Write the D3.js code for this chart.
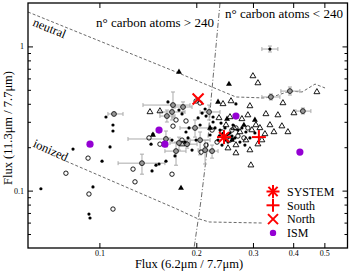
<!DOCTYPE html>
<html><head><meta charset="utf-8">
<script src="https://cdn.jsdelivr.net/npm/d3@7"></script>
<style>body{margin:0;background:#fff}svg{display:block}text{font-family:"Liberation Serif","Times New Roman",serif}</style>
</head><body><svg id="c" width="352" height="272"></svg>
<script>
// ---- data ----
const xTicks=[0.1,0.2,0.3,0.4,0.5];
const yTicks=[0.1,1];
const yMinor=[0.05,0.06,0.07,0.08,0.09,0.2,0.3,0.4,0.5,0.6,0.7,0.8,0.9];

const dotsX=[0.0658,0.0828,0.0955,0.0928,0.0935,0.1019,0.1048,0.1079,0.1102,0.1102,0.1447,0.1467,0.1457,0.1499,0.1532,0.1610,0.1633,0.1717,0.1767,0.1806,0.1858,0.1899,0.2130,0.2085,0.2145,0.2255,0.2255,0.2387,0.2656,0.1681,0.1885,0.2287,0.2370,0.2456,0.2545,0.2601,0.2694,0.2772,0.2852,0.2935,0.3042,0.2509,0.2337,0.2207,0.2733,0.2832,0.2637,0.2055,0.1997,0.1940,0.1845,0.2026,0.2474,0.2582,0.2404,0.2420,0.2500,0.2360,0.2600];
const dotsY=[0.103,0.194,0.106,0.0688,0.0646,0.160,0.324,0.201,0.285,0.259,0.210,0.247,0.137,0.150,0.153,0.160,0.412,0.174,0.362,0.340,0.255,0.272,0.368,0.345,0.329,0.324,0.299,0.294,0.399,0.224,0.232,0.272,0.263,0.272,0.251,0.285,0.263,0.272,0.255,0.232,0.251,0.217,0.224,0.243,0.217,0.207,0.232,0.285,0.224,0.191,0.217,0.319,0.224,0.239,0.207,0.250,0.245,0.240,0.228];

const openCircX=[0.0787,0.0922,0.0928,0.1102,0.1272,0.1290,0.1426,0.1542,0.1681,0.1693,0.1730,0.1858,0.1997,0.2055,0.2070,0.1806,0.2404,0.2509,0.2582,0.2239,0.2694,0.2812,0.2893,0.2320,0.2145,0.2545,0.2656];
const openCircY=[0.132,0.168,0.0947,0.0745,0.141,0.115,0.232,0.210,0.130,0.280,0.309,0.304,0.418,0.405,0.185,0.224,0.255,0.239,0.263,0.263,0.239,0.232,0.272,0.217,0.207,0.224,0.272];

const openTriX=[0.1542,0.1806,0.1436,0.2421,0.2564,0.2353,0.2545,0.2772,0.2893,0.2935,0.2999,0.3108,0.3291,0.3586,0.3717,0.4021,0.3387,0.3690,0.3852,0.3268,0.4740,0.2656,0.2956,0.2474,0.2619,0.2733,0.2977,0.3064,0.3153,0.2852,0.2656,0.2509,0.3108,0.3198,0.3485,0.2935];
const openTriY=[0.356,0.210,0.351,0.399,0.418,0.319,0.324,0.314,0.334,0.386,0.623,0.557,0.340,0.334,0.405,0.345,0.285,0.280,0.255,0.247,0.483,0.182,0.150,0.285,0.272,0.255,0.263,0.285,0.272,0.224,0.207,0.197,0.210,0.224,0.255,0.191];

const fillTriX=[0.1767,0.2527,0.1793,0.1467,0.2337,0.2492,0.2207,0.2812,0.2582,0.3042];
const fillTriY=[0.665,0.548,0.104,0.243,0.412,0.314,0.272,0.285,0.224,0.309];

// error-bar circles
const errX=[0.1693,0.1110,0.1621,0.1356,0.1610,0.1872,0.2130,0.2239,0.1767,0.3411,0.3908,0.4288,0.1681,0.1819,0.2055,0.1982,0.1730,0.2192];
const errY=[0.392,0.340,0.329,0.155,0.228,0.210,0.191,0.188,0.214,0.446,0.490,0.356,0.351,0.380,0.224,0.272,0.188,0.351];
const errXlo=[0.1366,0.1063,0.1542,0.1143,0.1227,0.1780,0.2026,0.2145,0.1657,0.3198,0.3664,0.4079,0.1542,0.1717,0.1912,0.1780,0.1598,0.2055];
const errXhi=[0.1912,0.1184,0.1717,0.1598,0.1657,0.2011,0.2255,0.2337,0.1912,0.3638,0.4197,0.4541,0.1845,0.1940,0.2207,0.2207,0.1858,0.2370];
const errYlo=[0.319,0.340,0.299,0.130,0.201,0.197,0.153,0.168,0.191,0.425,0.460,0.340,0.309,0.351,0.177,0.235,0.150,0.309];
const errYhi=[0.483,0.340,0.362,0.179,0.259,0.224,0.224,0.207,0.235,0.468,0.523,0.374,0.392,0.412,0.255,0.309,0.217,0.392];
// filled dot with error bars
const errDotX=[0.3387], errDotY=[0.959], errDotXlo=[0.3198], errDotXhi=[0.3586], errDotYlo=[0.915], errDotYhi=[1.006];

const systemPt=[0.2439,0.235];
const southPt=[0.3130,0.235];
const northPt=[0.2026,0.432];
const ismX=[0.0935,0.1532,0.1598,0.2656,0.4197];
const ismY=[0.210,0.263,0.210,0.329,0.185];

const neutralLineX=[0.060,0.1730,0.2656,0.3268,0.3513,0.3908,0.4263,0.4677,0.5025];
const neutralLineY=[1.732,0.665,0.446,0.439,0.453,0.490,0.483,0.548,0.515];
const ionizedLineX=[0.0788,0.1742,0.1997,0.2192,0.3221];
const ionizedLineY=[0.160,0.0745,0.0646,0.0606,0.0596];
const carbonLineX=[0.2370,0.2222,0.2161,0.2070,0.1968];
const carbonLineY=[2.0,0.425,0.191,0.0864,0.040];

const legendLabels=["SYSTEM","South","North","ISM"];

// ---- drawing ----
const svg=d3.select("#c");
const L=28,R=347.5,T=3,B=248;
const x=d3.scaleLog().domain([0.06,0.59]).range([L,R]);
const y=d3.scaleLog().domain([0.04,2]).range([B,T]);
const RED="#ff0000", PURPLE="#9400d3";

const line=d3.line().x(d=>x(d[0])).y(d=>y(d[1]));
const g=svg.append("g");
g.append("path").attr("d",line(d3.zip(neutralLineX,neutralLineY))).attr("fill","none").attr("stroke","#444").attr("stroke-width",0.8).attr("stroke-dasharray","3,2");
g.append("path").attr("d",line(d3.zip(ionizedLineX,ionizedLineY))).attr("fill","none").attr("stroke","#444").attr("stroke-width",0.8).attr("stroke-dasharray","3,2");
g.append("path").attr("d",line(d3.zip(carbonLineX,carbonLineY))).attr("fill","none").attr("stroke","#444").attr("stroke-width",0.8).attr("stroke-dasharray","5,2,1,2");

// error bars
function errBars(xs,ys,xlo,xhi,ylo,yhi){
  const eg=svg.append("g").attr("stroke","#aaa").attr("stroke-width",1);
  xs.forEach((v,i)=>{
    const cx=x(v),cy=y(ys[i]);
    if(xhi[i]>xlo[i]){
      eg.append("line").attr("x1",x(xlo[i])).attr("x2",x(xhi[i])).attr("y1",cy).attr("y2",cy);
      eg.append("line").attr("x1",x(xlo[i])).attr("x2",x(xlo[i])).attr("y1",cy-2).attr("y2",cy+2);
      eg.append("line").attr("x1",x(xhi[i])).attr("x2",x(xhi[i])).attr("y1",cy-2).attr("y2",cy+2);
    }
    if(yhi[i]>ylo[i]){
      eg.append("line").attr("x1",cx).attr("x2",cx).attr("y1",y(ylo[i])).attr("y2",y(yhi[i]));
      eg.append("line").attr("x1",cx-2).attr("x2",cx+2).attr("y1",y(ylo[i])).attr("y2",y(ylo[i]));
      eg.append("line").attr("x1",cx-2).attr("x2",cx+2).attr("y1",y(yhi[i])).attr("y2",y(yhi[i]));
    }
  });
}
errBars(errX,errY,errXlo,errXhi,errYlo,errYhi);
errBars(errDotX,errDotY,errDotXlo,errDotXhi,errDotYlo,errDotYhi);

const tri=d3.symbol().type(d3.symbolTriangle).size(15);
svg.append("g").selectAll("path").data(d3.zip(openTriX,openTriY)).join("path")
  .attr("d",tri).attr("transform",d=>`translate(${x(d[0])},${y(d[1])})`)
  .attr("fill","none").attr("stroke","#000").attr("stroke-width",0.9);
svg.append("g").selectAll("path").data(d3.zip(fillTriX,fillTriY)).join("path")
  .attr("d",tri).attr("transform",d=>`translate(${x(d[0])},${y(d[1])})`)
  .attr("fill","#000");
svg.append("g").selectAll("circle").data(d3.zip(openCircX,openCircY)).join("circle")
  .attr("cx",d=>x(d[0])).attr("cy",d=>y(d[1])).attr("r",2.2)
  .attr("fill","none").attr("stroke","#000").attr("stroke-width",0.9);
svg.append("g").selectAll("circle").data(d3.zip(errX,errY)).join("circle")
  .attr("cx",d=>x(d[0])).attr("cy",d=>y(d[1])).attr("r",2.4)
  .attr("fill","#999").attr("stroke","#222").attr("stroke-width",1);
svg.append("g").selectAll("circle").data(d3.zip(dotsX.concat(errDotX),dotsY.concat(errDotY))).join("circle")
  .attr("cx",d=>x(d[0])).attr("cy",d=>y(d[1])).attr("r",1.6).attr("fill","#000");

// red markers
function asterisk(gg,cx,cy,r,w){
  for(let a=0;a<4;a++){const t=a*Math.PI/4;
    gg.append("line").attr("x1",cx-r*Math.cos(t)).attr("y1",cy-r*Math.sin(t)).attr("x2",cx+r*Math.cos(t)).attr("y2",cy+r*Math.sin(t)).attr("stroke",RED).attr("stroke-width",w);}
}
function plus(gg,cx,cy,r,w){
  gg.append("line").attr("x1",cx-r).attr("x2",cx+r).attr("y1",cy).attr("y2",cy).attr("stroke",RED).attr("stroke-width",w);
  gg.append("line").attr("x1",cx).attr("x2",cx).attr("y1",cy-r).attr("y2",cy+r).attr("stroke",RED).attr("stroke-width",w);
}
function cross(gg,cx,cy,r,w){
  gg.append("line").attr("x1",cx-r).attr("x2",cx+r).attr("y1",cy-r).attr("y2",cy+r).attr("stroke",RED).attr("stroke-width",w);
  gg.append("line").attr("x1",cx-r).attr("x2",cx+r).attr("y1",cy+r).attr("y2",cy-r).attr("stroke",RED).attr("stroke-width",w);
}
const rg=svg.append("g");
asterisk(rg,x(systemPt[0]),y(systemPt[1]),7,2);
plus(rg,x(southPt[0]),y(southPt[1]),7,2);
cross(rg,x(northPt[0]),y(northPt[1]),5.5,2);
svg.append("g").selectAll("circle").data(d3.zip(ismX,ismY)).join("circle")
  .attr("cx",d=>x(d[0])).attr("cy",d=>y(d[1])).attr("r",3.6).attr("fill",PURPLE);

// axes
const fmt=d3.format(".1f");
function styleAxis(a){a.select(".domain").remove();a.selectAll("line").attr("stroke","#000").attr("stroke-width",1);a.selectAll("text").attr("font-size",8).attr("font-family","Liberation Serif, serif").attr("fill","#000");}
svg.append("g").attr("transform",`translate(0,${B})`).call(d3.axisBottom(x).tickValues(xTicks).tickFormat(fmt).tickSize(-5).tickPadding(2)).call(styleAxis);
svg.append("g").attr("transform",`translate(0,${T})`).call(d3.axisTop(x).tickValues(xTicks).tickFormat("").tickSize(-5)).call(styleAxis);
svg.append("g").attr("transform",`translate(${L},0)`).call(d3.axisLeft(y).tickValues(yTicks).tickFormat(d=>d===1?"1":"0.1").tickSize(-5).tickPadding(4)).call(styleAxis);
svg.append("g").attr("transform",`translate(${L},0)`).call(d3.axisLeft(y).tickValues(yMinor).tickFormat("").tickSize(-3)).call(styleAxis);
svg.append("g").attr("transform",`translate(${R},0)`).call(d3.axisRight(y).tickValues(yTicks).tickFormat("").tickSize(-5)).call(styleAxis);
svg.append("g").attr("transform",`translate(${R},0)`).call(d3.axisRight(y).tickValues(yMinor).tickFormat("").tickSize(-3)).call(styleAxis);
svg.append("rect").attr("x",L).attr("y",T).attr("width",R-L).attr("height",B-T).attr("fill","none").attr("stroke","#000").attr("stroke-width",1.3);

// texts
svg.append("text").attr("x",189).attr("y",267.5).attr("text-anchor","middle").attr("font-size",12.5).text("Flux (6.2μm / 7.7μm)");
svg.append("text").attr("transform","translate(12,128) rotate(-90)").attr("text-anchor","middle").attr("font-size",12.5).text("Flux (11.3μm / 7.7μm)");
svg.append("text").attr("x",96).attr("y",27).attr("font-size",13).text("n° carbon atoms > 240");
svg.append("text").attr("x",225).attr("y",18).attr("font-size",13).text("n° carbon atoms < 240");
svg.append("text").attr("transform","translate(48,32) rotate(22)").attr("text-anchor","middle").attr("font-size",12.5).text("neutral");
svg.append("text").attr("transform","translate(49,154) rotate(24)").attr("text-anchor","middle").attr("font-size",12.5).text("ionized");

// legend
const lg=svg.append("g");
const lx=273, ly=[191.5,205.3,219.1,232.9];
asterisk(lg,lx,ly[0],6.5,2);
plus(lg,lx,ly[1],6.5,2);
cross(lg,lx,ly[2],5,2);
lg.append("circle").attr("cx",lx).attr("cy",ly[3]).attr("r",3.2).attr("fill",PURPLE);
legendLabels.forEach((t,i)=>lg.append("text").attr("x",287).attr("y",ly[i]+4.3).attr("font-size",12).text(t));
</script></body></html>
